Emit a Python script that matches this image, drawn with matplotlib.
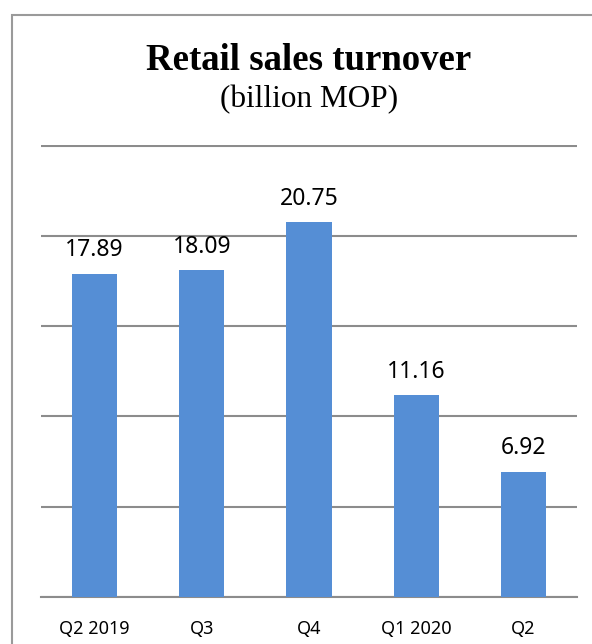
import matplotlib
matplotlib.use("Agg")
import matplotlib.pyplot as plt
from matplotlib.patches import Rectangle

# data
quarters = ["Q2 2019", "Q3", "Q4", "Q1 2020", "Q2"]
turnover = [17.89, 18.09, 20.75, 11.16, 6.92]
y_ticks = [0, 5, 10, 15, 20, 25]

BAR_COLOR = "#558ed5"
GRID_COLOR = "#8c8c8c"

W, H = 592, 644
fig = plt.figure(figsize=(W / 100, H / 100), dpi=100)
fig.patch.set_facecolor("white")

# outer frame (clipped at the bottom and right like the reference)
fig.patches.append(Rectangle((12 / W, -0.05), 1.2, 1 - 15 / H + 0.05,
                             transform=fig.transFigure, fill=False,
                             edgecolor="#9a9a9a", linewidth=1.5))

ax = fig.add_axes([41 / W, 1 - 597 / H, (577 - 41) / W, (597 - 145.5) / H])
x = range(len(quarters))
ax.bar(x, turnover, width=0.42, color=BAR_COLOR, zorder=3)
ax.set_xlim(-0.5, len(quarters) - 0.5)
ax.set_ylim(0, 25)
ax.set_yticks(y_ticks)
ax.yaxis.grid(True, color=GRID_COLOR, linewidth=1.5, zorder=0)
ax.tick_params(axis="y", left=False, labelleft=False)
ax.tick_params(axis="x", bottom=False, pad=13)
ax.set_xticks(list(x))
ax.set_xticklabels(quarters, fontsize=13, family="Noto Sans")
for s in ["top", "left", "right"]:
    ax.spines[s].set_visible(False)
ax.spines["bottom"].set_color(GRID_COLOR)
ax.spines["bottom"].set_linewidth(1.5)

for xi, v in zip(x, turnover):
    ax.annotate(f"{v:.2f}", (xi, v), xytext=(0, 17), textcoords="offset points",
                ha="center", va="center", fontsize=16.5, family="Noto Sans")

fig.text(309 / W, 1 - 61 / H, "Retail sales turnover", ha="center", va="center",
         fontsize=26.5, fontweight="bold", family="Liberation Serif")
fig.text(309 / W, 1 - 100 / H, "(billion MOP)", ha="center", va="center",
         fontsize=22.5, family="Liberation Serif")

fig.savefig("out.png", dpi=100)
